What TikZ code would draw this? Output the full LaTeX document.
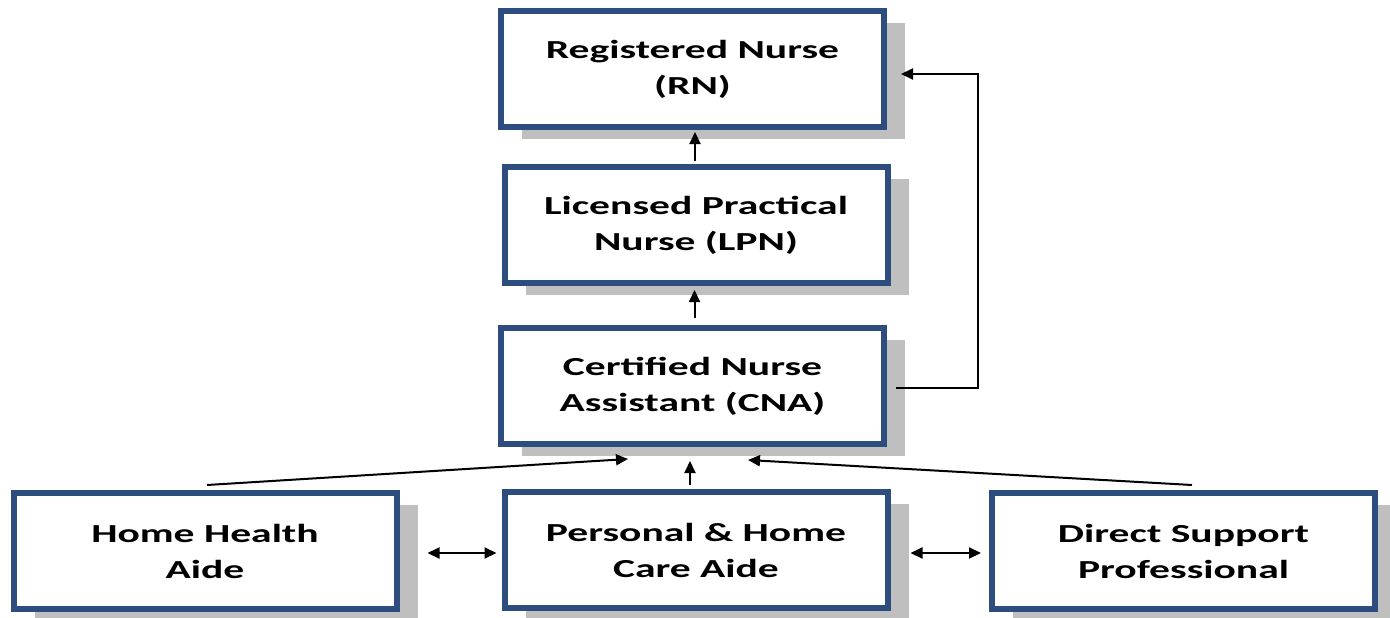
\documentclass[tikz,border=0pt]{standalone}
\usepackage{fontspec}
\usetikzlibrary{arrows.meta,shadows}
\newfontfamily\boxfont[FakeStretch=1.6]{Carlito}
\definecolor{boxblue}{HTML}{2D4D7E}
\definecolor{shadowgray}{HTML}{BFBFBF}
\begin{document}
\begin{tikzpicture}[x=1pt,y=-1pt,
  careerbox/.style={draw=boxblue, line width=6pt, fill=white,
    minimum width=383pt, minimum height=116pt, inner sep=0pt,
    align=center, font=\boxfont\bfseries\fontsize{26}{36}\selectfont,
    drop shadow={shadow xshift=21pt, shadow yshift=-12pt, opacity=1, fill=shadowgray}},
  tip/.style={Triangle[length=12pt,width=11pt]},
  arr/.style={line width=2pt, -{Triangle[length=12pt,width=11pt]}},
  darr/.style={line width=2pt, {Triangle[length=12pt,width=11pt]}-{Triangle[length=12pt,width=11pt]}}]
\useasboundingbox (0,0) rectangle (1390,618);

% career ladder
\node[careerbox] (rn)   at (692.5,69)  {Registered Nurse\\(RN)};
\node[careerbox] (lpn)  at (696,225)   {Licensed Practical\\Nurse (LPN)};
\node[careerbox] (cna)  at (692.5,386) {Certified Nurse\\Assistant (CNA)};

% entry-level roles
\node[careerbox] (hha)  at (205,551)    {Home Health\\Aide};
\node[careerbox] (phca) at (696,550)    {Personal \& Home\\Care Aide};
\node[careerbox] (dsp)  at (1183.5,551) {Direct Support\\Professional};

% upward steps
\draw[arr, shorten <=3pt, shorten >=2pt] ([xshift=-1pt]lpn.north) -- ([xshift=-1pt]lpn.north |- rn.south);
\draw[arr, shorten <=7pt, shorten >=4pt] ([xshift=2pt]cna.north) -- ([xshift=2pt]cna.north |- lpn.south);
\draw[arr, shorten <=4pt, shorten >=14pt] ([xshift=-6pt]phca.north) -- ([xshift=-6pt]phca.north |- cna.south);
\draw[arr] ([shift={(2pt,5pt)}]hha.north) -- ([shift={(-64.5pt,-12pt)}]cna.south);
\draw[arr] ([shift={(8.5pt,5pt)}]dsp.north) -- ([shift={(55.5pt,-13pt)}]cna.south);

% CNA directly to RN
\draw[arr, shorten <=9pt, shorten >=14pt] ([yshift=-2pt]cna.east) -- ++(91,0) |- ([yshift=-5pt]rn.east);

% lateral moves between entry roles
\draw[darr, shorten <=28pt, shorten >=5pt] ([yshift=-2pt]hha.east) -- ([yshift=-3pt]phca.west);
\draw[darr, shorten <=20pt, shorten >=8pt] ([yshift=-3pt]phca.east) -- ([yshift=-2pt]dsp.west);
\end{tikzpicture}
\end{document}
